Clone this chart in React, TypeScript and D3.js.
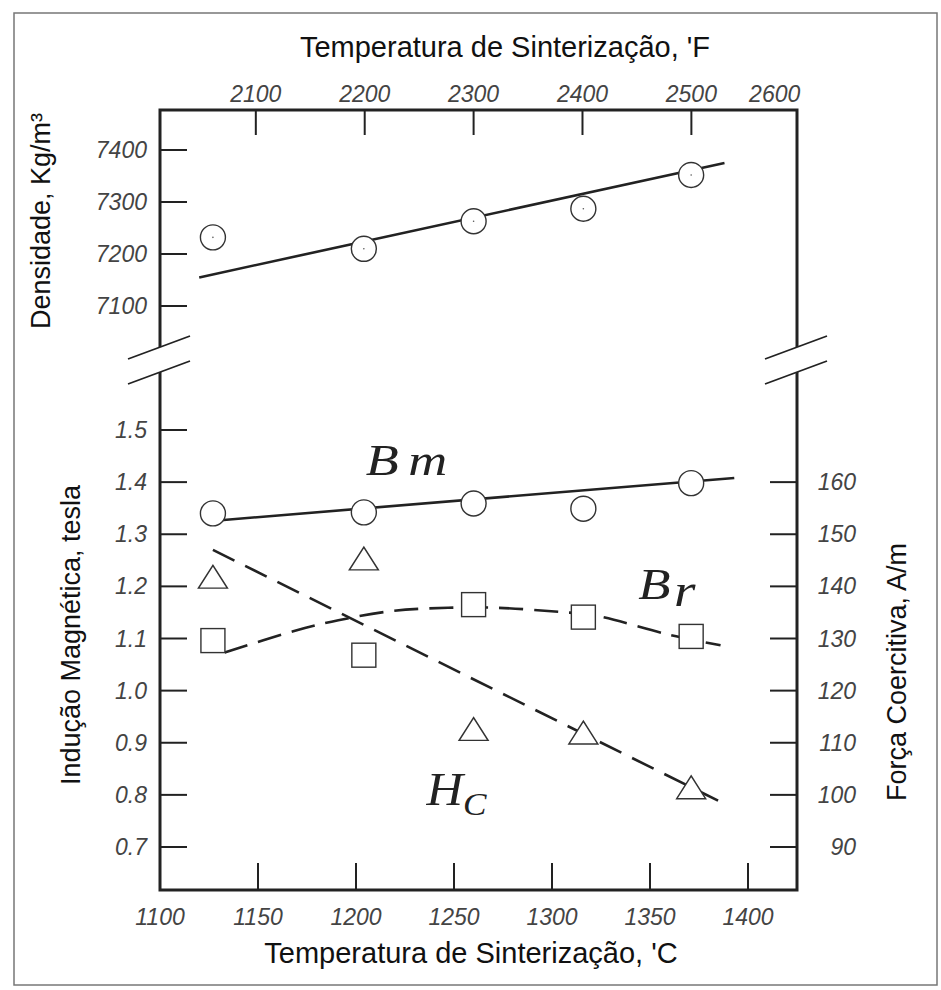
import {useEffect, useRef} from "react";
import * as d3 from "d3";

// sintering temperature of each sample, deg C
const tempC = [1127, 1204, 1260, 1316, 1371];
const density = [7232, 7210, 7263, 7287, 7352];
const bm = [1.340, 1.342, 1.359, 1.349, 1.398];
const br = [1.096, 1.068, 1.165, 1.141, 1.104];
const hc = [141.5, 145.0, 112.3, 111.6, 101.1];

// fitted curves
const densityFitT = [1120, 1388];
const densityFitV = [7155, 7375];
const bmFitT = [1131, 1393];
const bmFitV = [1.327, 1.408];
const hcFitT = [1127, 1390];
const hcFitV = [147.0, 97.9];
const brFitT = [1133, 1168, 1191, 1219, 1247, 1271, 1304, 1322, 1360, 1386];
const brFitV = [1.073, 1.114, 1.135, 1.153, 1.159, 1.159, 1.151, 1.144, 1.107, 1.087];

const ticksC = [1100, 1150, 1200, 1250, 1300, 1350, 1400];
const ticksF = [2100, 2200, 2300, 2400, 2500, 2600];
const ticksDensity = [7100, 7200, 7300, 7400];
const ticksTesla = [0.7, 0.8, 0.9, 1.0, 1.1, 1.2, 1.3, 1.4, 1.5];
const ticksHc = [90, 100, 110, 120, 130, 140, 150, 160];

const fToC = (f: number) => (f - 32) * 5 / 9;

export default function App() {
    const chartRef = useRef<SVGSVGElement>(null);

    useEffect(() => {
        if (!chartRef.current) return;

        const width = 941;
        const height = 990;
        const left = 160, right = 797, top = 110, bottom = 890;
        const breakA = 347, breakB = 372; // axis break on both sides
        const tickLen = 27;
        const ink = "#222";
        const labelFont = "'Liberation Sans', Arial, sans-serif";

        const svg = d3.select(chartRef.current)
            .attr("viewBox", [0, 0, width, height])
            .attr("width", width)
            .attr("height", height);
        svg.selectAll("*").remove();

        svg.append("rect").attr("width", width).attr("height", height).attr("fill", "white");
        // outer border of the scanned page
        svg.append("rect")
            .attr("x", 14).attr("y", 13).attr("width", 923).attr("height", 972)
            .attr("fill", "none").attr("stroke", "#777").attr("stroke-width", 1.5);

        const x = d3.scaleLinear().domain([1100, 1425]).range([left, right]);
        const yT = d3.scaleLinear().domain([0.7, 1.5]).range([847, 430]);
        const yD = d3.scaleLinear().domain([7100, 7400]).range([306, 150]);
        const yH = d3.scaleLinear().domain([90, 160]).range([yT(0.7), yT(1.4)]);

        // frame, with gaps at the axis break
        const frame = d3.path();
        frame.moveTo(left, breakA);
        frame.lineTo(left, top);
        frame.lineTo(right, top);
        frame.lineTo(right, breakA);
        frame.moveTo(right, breakB);
        frame.lineTo(right, bottom);
        frame.lineTo(left, bottom);
        frame.lineTo(left, breakB);
        svg.append("path").attr("d", frame.toString())
            .attr("fill", "none").attr("stroke", ink).attr("stroke-width", 3)
            .attr("stroke-linejoin", "miter");

        // break marks
        for (const cx of [left, right]) {
            for (const cy of [breakA, breakB]) {
                svg.append("line")
                    .attr("x1", cx - 32).attr("y1", cy + 12)
                    .attr("x2", cx + 30).attr("y2", cy - 11)
                    .attr("stroke", ink).attr("stroke-width", 1.8);
            }
        }

        const ticks = svg.append("g").attr("stroke", ink).attr("stroke-width", 2);
        const labels = svg.append("g")
            .attr("font-family", labelFont).attr("font-style", "italic")
            .attr("font-size", 23).attr("fill", "#444");

        // bottom axis, deg C
        ticks.selectAll(".tc").data(ticksC.filter(d => d > 1100)).join("line")
            .attr("x1", d => x(d)).attr("x2", d => x(d))
            .attr("y1", bottom).attr("y2", bottom - tickLen);
        labels.selectAll(".lc").data(ticksC).join("text")
            .attr("x", d => x(d)).attr("y", 925)
            .attr("text-anchor", "middle").text(d => d);

        // top axis, deg F
        ticks.selectAll(".tf").data(ticksF.filter(d => fToC(d) < 1420)).join("line")
            .attr("x1", d => x(fToC(d))).attr("x2", d => x(fToC(d)))
            .attr("y1", top).attr("y2", top + tickLen - 2);
        labels.selectAll(".lf").data(ticksF).join("text")
            .attr("x", d => x(fToC(d)))
            .attr("y", 102)
            .attr("text-anchor", d => d === 2600 ? "end" : "middle")
            .text(d => d);

        // left axis, density
        ticks.selectAll(".td").data(ticksDensity).join("line")
            .attr("x1", left).attr("x2", left + tickLen)
            .attr("y1", d => yD(d)).attr("y2", d => yD(d));
        labels.selectAll(".ld").data(ticksDensity).join("text")
            .attr("x", 147).attr("y", d => yD(d) + 8)
            .attr("text-anchor", "end").text(d => d);

        // left axis, tesla
        ticks.selectAll(".tt").data(ticksTesla).join("line")
            .attr("x1", left).attr("x2", left + tickLen)
            .attr("y1", d => yT(d)).attr("y2", d => yT(d));
        labels.selectAll(".lt").data(ticksTesla).join("text")
            .attr("x", 147).attr("y", d => yT(d) + 8)
            .attr("text-anchor", "end").text(d => d.toFixed(1));

        // right axis, A/m
        ticks.selectAll(".th").data(ticksHc).join("line")
            .attr("x1", right).attr("x2", right - tickLen)
            .attr("y1", d => yH(d)).attr("y2", d => yH(d));
        labels.selectAll(".lh").data(ticksHc).join("text")
            .attr("x", 856).attr("y", d => yH(d) + 8)
            .attr("text-anchor", "end").text(d => d);

        // axis titles
        const titles = svg.append("g")
            .attr("font-family", labelFont).attr("font-size", 27).attr("fill", "#111");
        titles.append("text").attr("x", 505).attr("y", 57).attr("font-size", 29)
            .attr("text-anchor", "middle").text("Temperatura de Sinterização, 'F");
        titles.append("text").attr("x", 471).attr("y", 963).attr("font-size", 29)
            .attr("text-anchor", "middle").text("Temperatura de Sinterização, 'C");
        titles.append("text").attr("transform", "translate(50,221) rotate(-90)")
            .attr("text-anchor", "middle").text("Densidade, Kg/m³");
        titles.append("text").attr("transform", "translate(80,635) rotate(-90)")
            .attr("text-anchor", "middle").text("Indução Magnética, tesla");
        titles.append("text").attr("transform", "translate(906,672) rotate(-90)")
            .attr("text-anchor", "middle").text("Força Coercitiva, A/m");

        // fitted lines
        const lineD = d3.line<number>().x((d, i) => x(densityFitT[i])).y(d => yD(d));
        svg.append("path").attr("d", lineD(densityFitV))
            .attr("fill", "none").attr("stroke", ink).attr("stroke-width", 2.6);

        const lineBm = d3.line<number>().x((d, i) => x(bmFitT[i])).y(d => yT(d));
        svg.append("path").attr("d", lineBm(bmFitV))
            .attr("fill", "none").attr("stroke", ink).attr("stroke-width", 2.6);

        const lineHc = d3.line<number>().x((d, i) => x(hcFitT[i])).y(d => yH(d));
        svg.append("path").attr("d", lineHc(hcFitV))
            .attr("fill", "none").attr("stroke", ink).attr("stroke-width", 2.6)
            .attr("stroke-dasharray", "24 12");

        const lineBr = d3.line<number>().x((d, i) => x(brFitT[i])).y(d => yT(d))
            .curve(d3.curveCatmullRom);
        svg.append("path").attr("d", lineBr(brFitV))
            .attr("fill", "none").attr("stroke", ink).attr("stroke-width", 2.6)
            .attr("stroke-dasharray", "24 11");

        // markers
        const marks = svg.append("g").attr("fill", "white").attr("stroke", "#333").attr("stroke-width", 1.4);
        marks.selectAll(".md").data(density).join("circle")
            .attr("cx", (d, i) => x(tempC[i])).attr("cy", d => yD(d)).attr("r", 12.5);
        marks.selectAll(".mdd").data(density).join("circle")
            .attr("cx", (d, i) => x(tempC[i])).attr("cy", d => yD(d)).attr("r", 0.8)
            .attr("fill", "#555").attr("stroke", "none");
        marks.selectAll(".mbm").data(bm).join("circle")
            .attr("cx", (d, i) => x(tempC[i])).attr("cy", d => yT(d)).attr("r", 12.5);
        marks.selectAll(".mbr").data(br).join("rect")
            .attr("x", (d, i) => x(tempC[i]) - 12).attr("y", d => yT(d) - 12)
            .attr("width", 24).attr("height", 24);
        const tri = d3.symbol(d3.symbolTriangle, 300);
        marks.selectAll(".mhc").data(hc).join("path")
            .attr("d", tri)
            .attr("transform", (d, i) => `translate(${x(tempC[i])},${yH(d) + 2}) scale(1.1,1)`);

        // curve names, math italic
        const names = svg.append("g")
            .attr("font-family", "'Liberation Serif', 'DejaVu Serif', serif")
            .attr("font-style", "italic").attr("fill", "#222");
        const bmLabel = names.append("text")
            .attr("transform", `translate(${x(1205)},${yT(1.413)}) scale(1.2,1)`)
            .attr("font-size", 45);
        bmLabel.append("tspan").text("B");
        bmLabel.append("tspan").attr("dx", 8).text("m");
        const brLabel = names.append("text")
            .attr("transform", `translate(${x(1344)},${yT(1.175)}) scale(1.2,1)`)
            .attr("font-size", 44);
        brLabel.append("tspan").text("B");
        brLabel.append("tspan").attr("dx", 3).attr("dy", 7).attr("font-size", 46).text("r");
        const hcLabel = names.append("text")
            .attr("transform", `translate(${x(1236)},${yT(0.78)}) scale(1.1,1)`)
            .attr("font-size", 46);
        hcLabel.append("tspan").text("H");
        hcLabel.append("tspan").attr("font-size", 32).attr("dy", 10).text("C");

    }, []);

    return (
        <svg ref={chartRef} style={{position: "absolute", left: 0, top: 0}}/>
    );
}
